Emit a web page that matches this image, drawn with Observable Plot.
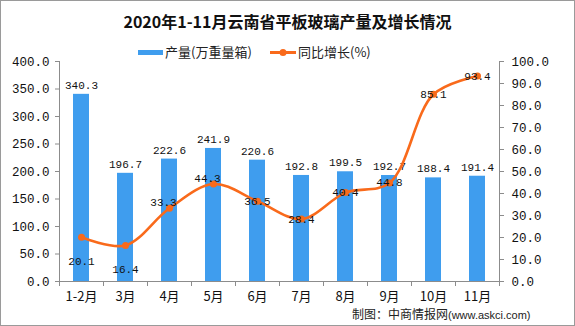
<!DOCTYPE html>
<html>
<head>
<meta charset="utf-8">
<script src="https://cdn.jsdelivr.net/npm/d3@7"></script>
<script src="https://cdn.jsdelivr.net/npm/@observablehq/plot@0.6"></script>
<style>
  html, body { margin: 0; padding: 0; background: #fff; }
  #wrap { position: relative; width: 575px; height: 326px; overflow: hidden; background: #fff; }
  #border { position: absolute; left: 0; top: 0; width: 573px; height: 324px; border: 1px solid #9a9a9a; pointer-events: none; }
  #title { position: absolute; left: 0; top: 10px; width: 575px; text-align: center;
    font-family: "Noto Sans CJK SC", sans-serif; font-weight: bold; font-size: 16px; color: #111; line-height: 22px; }
  .leg { position: absolute; top: 43px; font-family: "Noto Sans CJK SC", sans-serif; font-size: 13px; color: #222; line-height: 18px; }
  #caption { position: absolute; left: 352px; top: 307px; font-family: "Noto Sans CJK SC", sans-serif; font-size: 12px; color: #222; line-height: 13px; white-space: nowrap; }
  #caption span { font-family: "Liberation Sans", sans-serif; font-size: 11px; }
  #chart { position: absolute; left: 0; top: 0; }
</style>
</head>
<body>
<div id="wrap">
  <div id="chart"></div>
  <div id="title">2020年1-11月云南省平板玻璃产量及增长情况</div>
  <div class="leg" style="left:138px;">
    <svg width="25" height="18" style="vertical-align:top"><rect x="0" y="7" width="25" height="5" fill="#3F9DEE"/></svg><span style="margin-left:2px">产量(万重量箱)</span>
  </div>
  <div class="leg" style="left:270px;">
    <svg width="26" height="18" style="vertical-align:top"><line x1="0" x2="26" y1="9.5" y2="9.5" stroke="#F96A1B" stroke-width="3"/><circle cx="13" cy="9.5" r="3.5" fill="#F96A1B"/></svg><span style="margin-left:2px">同比增长(%)</span>
  </div>
  <div id="caption">制图：中商情报网<span>(www.askci.com)</span></div>
  <div id="border"></div>
</div>
<script>
const months = ["1-2月","3月","4月","5月","6月","7月","8月","9月","10月","11月"];
const output = [340.3,196.7,222.6,241.9,220.6,192.8,199.5,192.7,188.4,191.4];
const growth = [20.1,16.4,33.3,44.3,36.5,28.4,40.4,44.8,85.1,93.4];
const leftTicks = [0,50,100,150,200,250,300,350,400];
const rightTicks = [0,10,20,30,40,50,60,70,80,90,100];

const k = 400 / 100; // right axis mapped onto left scale
const data = months.map((m, i) => ({m, v: output[i], g: growth[i], i}));
const blue = "#3F9DEE", orange = "#F96A1B", axisColor = "#8c8c8c";
const mono = "'Liberation Mono', 'DejaVu Sans Mono', monospace";

const chart = Plot.plot({
  width: 575,
  height: 326,
  marginTop: 61,
  marginBottom: 45,
  marginLeft: 59,
  marginRight: 76,
  style: {fontFamily: mono, fontSize: "12px", color: "#111", background: "transparent"},
  x: {domain: months, paddingInner: 0.64, paddingOuter: 0.32, label: null},
  y: {domain: [0, 400], label: null},
  marks: [
    Plot.barY(data, {x: "m", y: "v", fill: blue}),
    Plot.ruleY([0], {stroke: axisColor}),
    Plot.frame({anchor: "left", stroke: axisColor}),
    Plot.frame({anchor: "right", stroke: axisColor}),
    Plot.axisY({ticks: leftTicks, tickFormat: d => d.toFixed(1), tickSize: 4, tickPadding: 6, stroke: axisColor, fill: "#111", fontSize: 12.5, label: null}),
    Plot.axisY({anchor: "right", ticks: rightTicks.map(t => t * k), tickFormat: d => (d / k).toFixed(1), tickSize: 4, tickPadding: 8, stroke: axisColor, fill: "#111", fontSize: 12.5, label: null}),
    Plot.axisX({tickSize: 0, tickPadding: 10, fontFamily: "'Noto Sans CJK SC', sans-serif", fontSize: 13, fill: "#111", label: null}),
    Plot.axisX({tickSize: 5, dx: -22, tickFormat: () => "", stroke: axisColor, label: null}),
    Plot.axisX({ticks: [months[months.length - 1]], tickSize: 5, dx: 22, tickFormat: () => "", stroke: axisColor, label: null}),
    Plot.text(data, {x: "m", y: "v", text: d => d.v.toFixed(1), dy: -9, fontSize: 11, fill: "#111"}),
    Plot.line(data, {x: "m", y: d => d.g * k, stroke: orange, strokeWidth: 2.6, curve: "catmull-rom"}),
    Plot.dot(data, {x: "m", y: d => d.g * k, r: 3.5, fill: orange}),
    Plot.text(data.filter(d => d.i < 2), {x: "m", y: d => d.g * k, text: d => d.g.toFixed(1), dy: 24, fontSize: 11, fill: "#111"}),
    Plot.text(data.filter(d => d.i === 2 || d.i === 3), {x: "m", y: d => d.g * k, text: d => d.g.toFixed(1), dx: -6, dy: -6, fontSize: 11, fill: "#111"}),
    Plot.text(data.filter(d => d.i > 3), {x: "m", y: d => d.g * k, text: d => d.g.toFixed(1), fontSize: 11, fill: "#111"})
  ]
});
document.getElementById("chart").appendChild(chart);
</script>
</body>
</html>
